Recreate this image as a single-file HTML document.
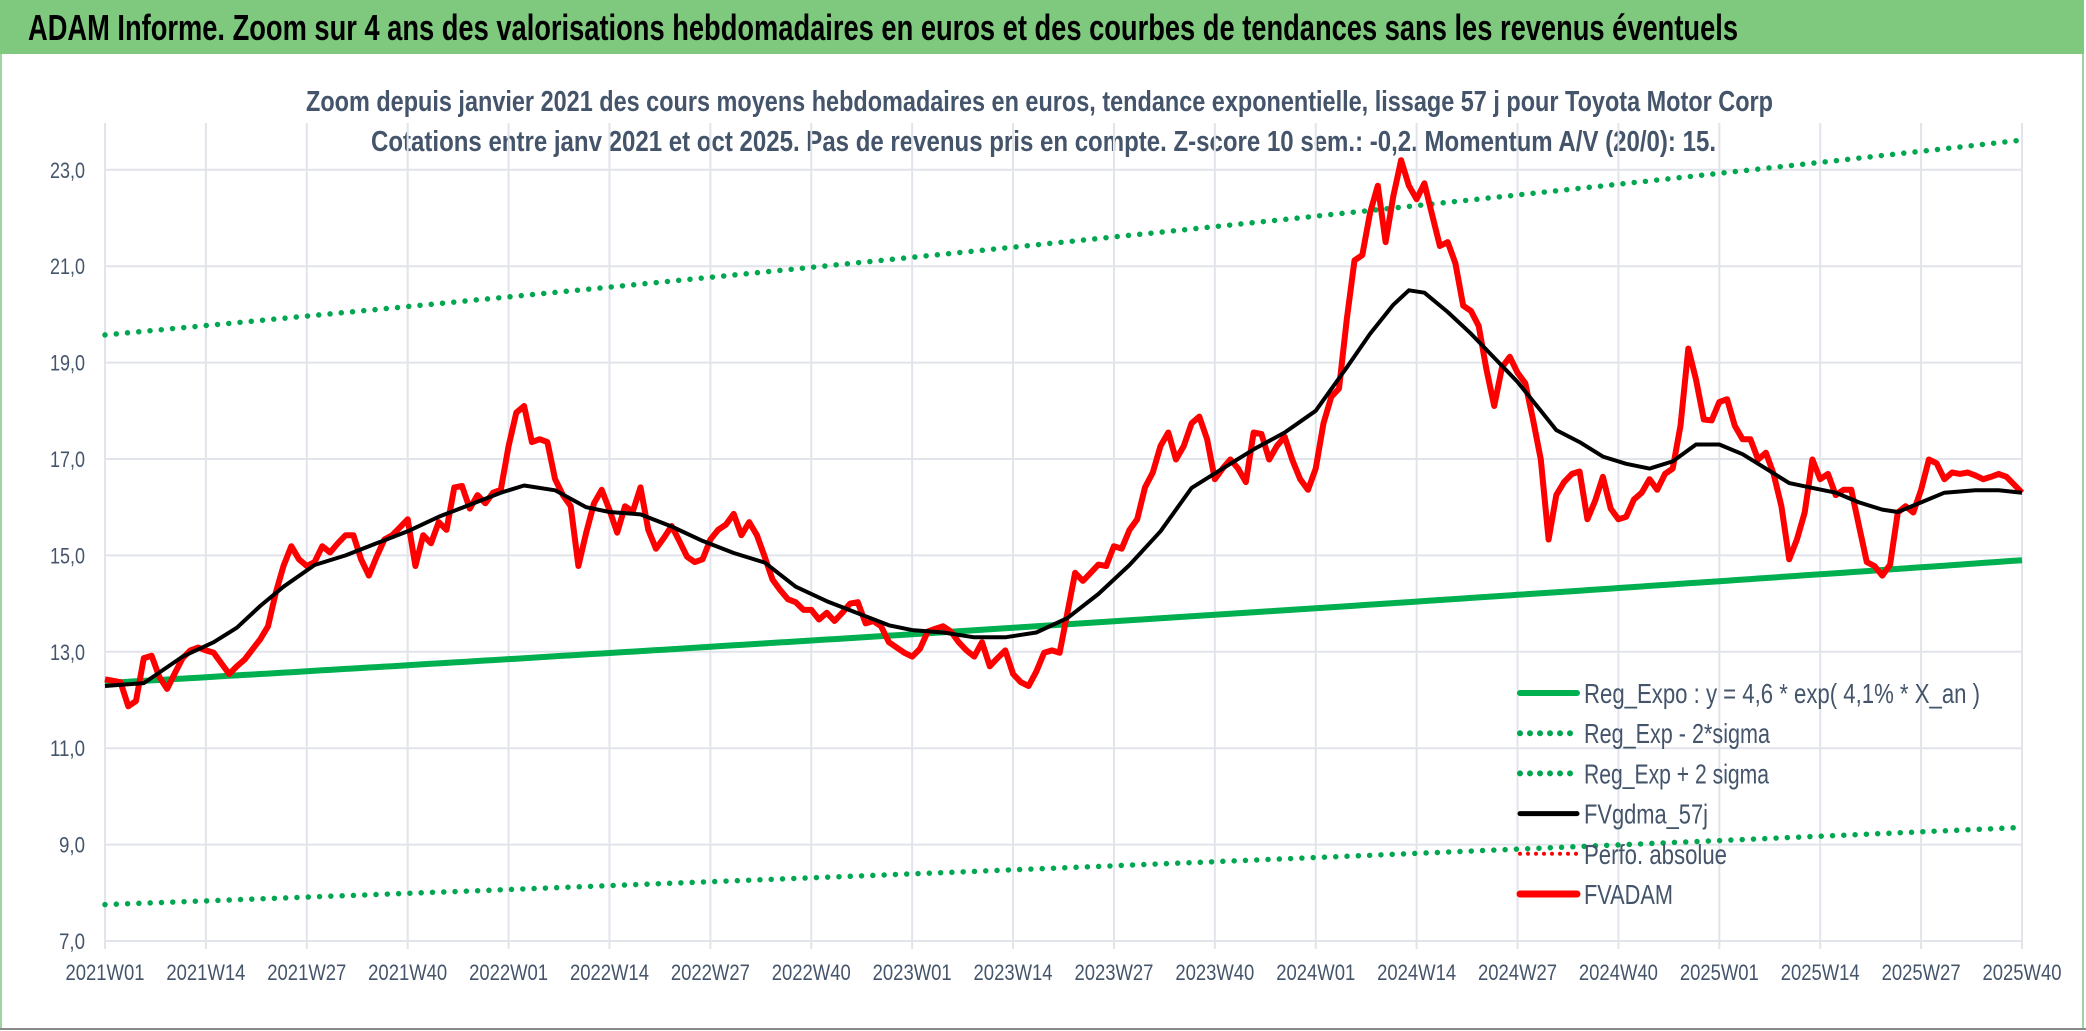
<!DOCTYPE html>
<html><head><meta charset="utf-8">
<style>
html,body{margin:0;padding:0;background:#fff;}
svg{display:block;}
text{font-family:"Liberation Sans",sans-serif;}
</style></head>
<body>
<svg id="chart" width="2086" height="1031" viewBox="0 0 2086 1031">
  <rect x="0" y="0" width="2086" height="1031" fill="#ffffff"/>
  <rect x="1" y="53" width="2082" height="976" fill="none" stroke="#9fd39f" stroke-width="2"/>
  <rect x="0" y="0" width="2084" height="54" fill="#7ec97e"/>
  <line x1="0" y1="1029" x2="2086" y2="1029" stroke="#8a8a8a" stroke-width="2"/>
  <text x="28" y="40" font-size="36" font-weight="bold" fill="#000" textLength="1710" lengthAdjust="spacingAndGlyphs">ADAM Informe. Zoom sur 4 ans des valorisations hebdomadaires en euros et des courbes de tendances sans les revenus éventuels</text>
  <text x="306" y="111" font-size="29" font-weight="bold" fill="#44546a" textLength="1467" lengthAdjust="spacingAndGlyphs">Zoom depuis janvier 2021 des cours moyens hebdomadaires en euros, tendance exponentielle, lissage 57 j pour Toyota Motor Corp</text>
  <text x="371" y="151" font-size="29" font-weight="bold" fill="#44546a" textLength="1345" lengthAdjust="spacingAndGlyphs">Cotations entre janv 2021 et oct 2025. Pas de revenus pris en compte. Z-score 10 sem.: -0,2. Momentum A/V (20/0): 15.</text>
  <g id="grid"></g>
  <g id="axes"></g>
  <g id="series"></g>
  <g id="legend"></g>
</svg>
<script>
const xLabels = ["2021W01","2021W14","2021W27","2021W40","2022W01","2022W14","2022W27","2022W40","2023W01","2023W14","2023W27","2023W40","2024W01","2024W14","2024W27","2024W40","2025W01","2025W14","2025W27","2025W40"];
const yTicks = [7,9,11,13,15,17,19,21,23];
const regStart = 12.35;
const regEnd = 14.9;
const sigmaUpFactor = 1.585;
const sigmaDownFactor = 0.628;
const redWeeks = [0,2,3,4,5,6,7,8,9,10,11,12,13,14,15,16,17,18,20,21,22,23,24,25,26,27,28,29,30,31,32,33,34,35,36,37,38,39,40,41,42,43,44,45,46,47,48,49,50,51,52,53,54,55,56,57,58,59,60,61,62,63,64,65,66,67,68,69,70,71,72,73,74,75,76,77,78,79,80,81,82,83,84,85,86,87,88,89,90,91,92,93,94,95,96,97,98,99,100,101,103,104,105,106,107,108,109,110,111,112,113,114,115,116,117,118,119,120,121,122,123,124,125,126,127,128,129,130,131,132,133,134,135,136,137,138,139,140,141,142,143,144,145,146,147,148,149,150,151,152,153,154,155,156,157,158,159,160,161,162,163,164,165,166,167,168,169,170,171,172,173,174,175,176,177,178,179,180,181,182,183,184,185,186,187,188,189,190,191,192,193,194,195,196,197,198,199,200,201,202,203,204,205,206,207,208,209,210,211,212,213,214,215,216,217,218,219,220,221,222,223,224,225,226,227,228,229,230,231,232,233,234,235,236,237,238,239,240,241,242,243,244,245,247];
const redValues = [12.43,12.37,11.87,11.98,12.87,12.92,12.48,12.23,12.56,12.87,13.03,13.09,13.03,12.98,12.76,12.54,12.70,12.84,13.26,13.53,14.22,14.78,15.19,14.92,14.78,14.86,15.19,15.06,15.25,15.42,15.42,14.92,14.58,14.97,15.33,15.42,15.58,15.75,14.78,15.42,15.25,15.69,15.53,16.41,16.44,15.97,16.25,16.08,16.30,16.36,17.27,17.96,18.1,17.35,17.41,17.35,16.58,16.25,16.02,14.78,15.47,16.08,16.36,15.94,15.47,16.02,15.91,16.41,15.53,15.14,15.36,15.61,15.30,14.97,14.86,14.92,15.33,15.53,15.64,15.86,15.42,15.69,15.42,14.97,14.50,14.28,14.09,14.03,13.87,13.87,13.67,13.81,13.64,13.81,14.0,14.03,13.59,13.64,13.53,13.2,12.98,12.90,13.06,13.42,13.48,13.53,13.42,13.2,13.03,12.90,13.2,12.70,12.87,13.03,12.54,12.37,12.29,12.59,12.98,13.03,12.98,13.81,14.64,14.47,14.64,14.81,14.78,15.19,15.14,15.53,15.75,16.41,16.72,17.27,17.55,16.99,17.27,17.74,17.88,17.41,16.58,16.80,16.99,16.80,16.52,17.55,17.52,16.99,17.27,17.46,16.97,16.58,16.36,16.80,17.74,18.29,18.46,19.90,21.12,21.23,22.11,22.67,21.50,22.45,23.2,22.67,22.39,22.72,22.06,21.42,21.50,21.06,20.18,20.07,19.76,18.85,18.10,18.90,19.12,18.79,18.57,17.82,16.99,15.33,16.25,16.52,16.69,16.74,15.75,16.13,16.63,15.97,15.75,15.80,16.16,16.30,16.58,16.36,16.69,16.80,17.69,19.29,18.65,17.82,17.80,18.18,18.24,17.69,17.41,17.41,16.99,17.13,16.69,16.02,14.92,15.33,15.89,16.99,16.58,16.69,16.25,16.36,16.36,15.61,14.86,14.78,14.58,14.81,15.89,16.02,15.89,16.36,16.99,16.91,16.58,16.72,16.69,16.72,16.66,16.58,16.63,16.69,16.63,16.30];
const blackWeeks = [0,5,10,14,17,20,23,27,31,35,39,43,47,51,54,58,62,65,69,73,77,81,85,89,93,97,101,104,108,112,116,120,124,128,132,136,140,144,148,152,156,160,163,166,168,170,173,176,179,182,185,187,190,193,196,199,202,205,208,211,214,217,220,223,226,229,231,234,237,241,244,247];
const blackValues = [12.29,12.35,12.9,13.2,13.5,13.95,14.35,14.8,15.0,15.25,15.5,15.8,16.05,16.3,16.45,16.35,16.0,15.9,15.85,15.6,15.3,15.05,14.85,14.35,14.05,13.8,13.55,13.45,13.4,13.3,13.3,13.4,13.7,14.2,14.8,15.5,16.4,16.8,17.2,17.55,18.0,18.9,19.6,20.2,20.5,20.45,20.05,19.6,19.1,18.6,18.0,17.6,17.35,17.05,16.9,16.8,16.95,17.3,17.3,17.1,16.8,16.5,16.4,16.3,16.1,15.95,15.9,16.1,16.3,16.35,16.35,16.3];

const NS = "http://www.w3.org/2000/svg";
const X0 = 105, X1 = 2022, Y7 = 941, PXU = 48.2, NW = 247, TOP = 123;
function xs(w){ return X0 + w * (X1 - X0) / NW; }
function ys(v){ return Y7 - (v - 7) * PXU; }
function mk(tag, attrs, parent){ const e = document.createElementNS(NS, tag); for (const k in attrs) e.setAttribute(k, attrs[k]); parent.appendChild(e); return e; }

const grid = document.getElementById('grid');
const axes = document.getElementById('axes');
const series = document.getElementById('series');
const legend = document.getElementById('legend');

yTicks.forEach(v => {
  const l = mk('line', {x1: X0, x2: X1, y1: ys(v), y2: ys(v), stroke: '#e1e4ea', 'stroke-width': 2}, grid);
  
  
  const lbl = v.toFixed(1).replace('.', ',');
  const t = mk('text', {x: 85, y: ys(v) + 8, 'font-size': 22, fill: '#44546a', 'text-anchor': 'end', textLength: lbl.length > 3 ? 35 : 26, lengthAdjust: 'spacingAndGlyphs'}, axes);
  t.textContent = lbl;
  
  
});
xLabels.forEach((lab, i) => {
  const x = xs(i * 13);
  const l = mk('line', {x1: x, x2: x, y1: TOP, y2: Y7 + 8, stroke: '#e1e4ea', 'stroke-width': 2}, grid);
  
  
  const t = mk('text', {x: x, y: 980, 'font-size': 22, fill: '#44546a', 'text-anchor': 'middle', textLength: 79, lengthAdjust: 'spacingAndGlyphs'}, axes);
  t.textContent = lab;
  
  
});

function reg(w){ return regStart * Math.exp(Math.log(regEnd / regStart) * w / NW); }
function regPath(f){ let d = ''; for (let w = 0; w <= NW; w += 1) d += (w ? 'L' : 'M') + xs(w).toFixed(1) + ',' + ys(reg(w) * f).toFixed(1); return d; }
function seriesPath(ws, vs){ return ws.map((w, i) => (i ? 'L' : 'M') + xs(w).toFixed(1) + ',' + ys(vs[i]).toFixed(1)).join(''); }

const pUp = mk('path', {d: regPath(sigmaUpFactor), fill: 'none', stroke: '#00a650', 'stroke-width': 5.5, 'stroke-linecap': 'round', 'stroke-dasharray': '0 11.3'}, series);


const pDown = mk('path', {d: regPath(sigmaDownFactor), fill: 'none', stroke: '#00a650', 'stroke-width': 5.5, 'stroke-linecap': 'round', 'stroke-dasharray': '0 11.3'}, series);


const pReg = mk('path', {d: regPath(1), fill: 'none', stroke: '#00b050', 'stroke-width': 6}, series);


const pRed = mk('path', {d: seriesPath(redWeeks, redValues), fill: 'none', stroke: '#ff0000', 'stroke-width': 6, 'stroke-linejoin': 'round'}, series);


const pBlack = mk('path', {d: seriesPath(blackWeeks, blackValues), fill: 'none', stroke: '#000000', 'stroke-width': 4, 'stroke-linejoin': 'round'}, series);



const legItems = [
  {label: 'Reg_Expo : y = 4,6 * exp( 4,1% *  X_an )', color: '#00b050', dash: null, w: 6, len: 396},
  {label: 'Reg_Exp - 2*sigma', color: '#00a650', dash: '0 10', w: 6, len: 186},
  {label: 'Reg_Exp + 2 sigma', color: '#00a650', dash: '0 10', w: 6, len: 185},
  {label: 'FVgdma_57j', color: '#000000', dash: null, w: 5, len: 124},
  {label: 'Perfo. absolue', color: '#ff0000', dash: '0 8', w: 4, len: 143},
  {label: 'FVADAM', color: '#ff0000', dash: null, w: 7, len: 89}
];
legItems.forEach((it, i) => {
  const y = 693 + i * 40.2;
  const g = mk('g', {}, legend);
  
  
  const a = {x1: 1520, x2: 1577, y1: y, y2: y, stroke: it.color, 'stroke-width': it.w, 'stroke-linecap': 'round'};
  if (it.dash) a['stroke-dasharray'] = it.dash;
  mk('line', a, g);
  const t = mk('text', {x: 1584, y: y + 10, 'font-size': 28, fill: '#44546a', textLength: it.len, lengthAdjust: 'spacingAndGlyphs'}, g);
  t.textContent = it.label;
});
</script>
</body></html>
